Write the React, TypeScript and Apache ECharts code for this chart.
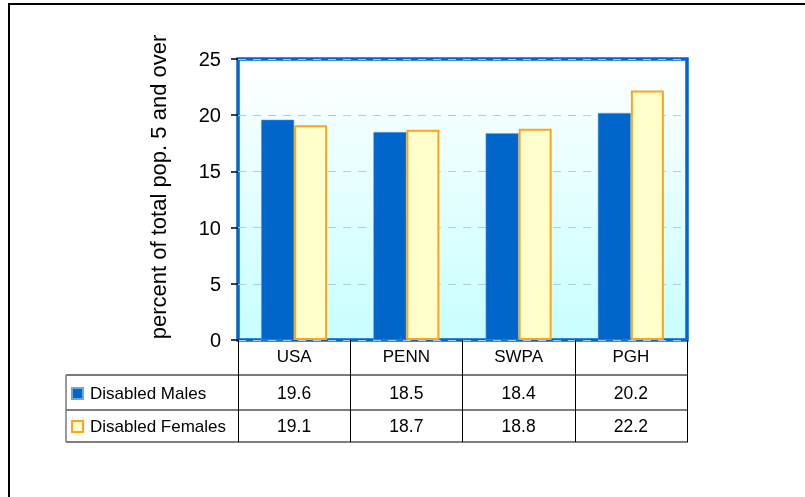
import React, { useEffect, useRef } from "react";
import * as echarts from "echarts";

const categories = ["USA", "PENN", "SWPA", "PGH"];
const males = [19.6, 18.5, 18.4, 20.2];
const females = [19.1, 18.7, 18.8, 22.2];
const seriesNames = ["Disabled Males", "Disabled Females"];
const yTitle = "percent of total pop. 5 and over";
const yMin = 0;
const yMax = 25;
const yInterval = 5;

const FONT = "'Liberation Sans', Arial, sans-serif";
const MALE = "#0066cc";
const FEMALE_FILL = "#ffffcc";
const FEMALE_BORDER = "#ffa31a";

export default function App() {
  const ref = useRef<HTMLDivElement>(null);
  useEffect(() => {
    document.body.style.margin = "0";
    const chart = echarts.init(ref.current!, null, { renderer: "svg" });
    const gridLeft = 238;
    const gridTop = 59;
    const gridW = 449;
    const gridH = 281;
    chart.setOption({
      animation: false,
      textStyle: { fontFamily: FONT },
      grid: {
        left: gridLeft,
        top: gridTop,
        width: gridW,
        height: gridH,
        show: true,
        borderColor: MALE,
        borderWidth: 3.5,
        backgroundColor: new echarts.graphic.LinearGradient(0, 0, 0, 1, [
          { offset: 0, color: "#ffffff" },
          { offset: 1, color: "#c8ffff" },
        ]),
      },
      legend: {
        orient: "vertical",
        left: 71,
        top: 385,
        padding: 0,
        itemWidth: 11,
        itemHeight: 11,
        itemGap: 16,
        icon: "rect",
        textStyle: { fontSize: 17, color: "#000", fontFamily: FONT, padding: [0, 0, 0, 2] },
        data: [
          { name: seriesNames[0], itemStyle: { color: MALE } },
          {
            name: seriesNames[1],
            itemStyle: { color: FEMALE_FILL, borderColor: FEMALE_BORDER, borderWidth: 2 },
          },
        ],
      },
      xAxis: {
        type: "category",
        data: categories,
        axisLine: { show: false },
        axisTick: {
          show: true,
          alignWithLabel: false,
          inside: false,
          length: 102,
          lineStyle: { color: "#000", width: 1 },
        },
        axisLabel: { fontSize: 17, color: "#000", margin: 8, fontFamily: FONT },
        splitLine: { show: false },
      },
      yAxis: {
        type: "value",
        min: yMin,
        max: yMax,
        interval: yInterval,
        axisLine: { show: false },
        axisTick: { show: true, length: 7, lineStyle: { color: "#000", width: 1.5 } },
        axisLabel: { fontSize: 20, color: "#000", margin: 17, fontFamily: FONT },
        splitLine: {
          show: true,
          lineStyle: { color: "#a9ccf2", type: [8, 7], width: 1 },
        },
      },
      series: [
        {
          name: seriesNames[0],
          type: "bar",
          data: males,
          barWidth: 33,
          barGap: "0%",
          itemStyle: { color: MALE, borderColor: "#6aa6e0", borderWidth: 0.5 },
        },
        {
          name: seriesNames[1],
          type: "bar",
          data: females,
          barWidth: 33,
          barGap: "0%",
          itemStyle: { color: FEMALE_FILL, borderColor: FEMALE_BORDER, borderWidth: 2 },
        },
      ],
    });

    const xs = categories.map((c) => chart.convertToPixel({ xAxisIndex: 0 }, c) as number);
    const tableLeft = 66;
    const tableRight = gridLeft + gridW + 1;
    const row1 = 375;
    const row2 = 410;
    const row3 = 442;
    const graphics: any[] = [
      {
        type: "rect",
        shape: { x: 9, y: 4, width: 900, height: 600 },
        style: { fill: "none", stroke: "#000", lineWidth: 2 },
        silent: true,
      },
      {
        type: "text",
        x: 158,
        y: 187,
        rotation: Math.PI / 2,
        style: {
          text: yTitle,
          fontSize: 22,
          fontFamily: FONT,
          fill: "#000",
          align: "center",
          verticalAlign: "middle",
        },
      },
      {
        type: "line",
        shape: { x1: tableLeft, y1: row1, x2: tableRight, y2: row1 },
        style: { stroke: "#7a7a7a", lineWidth: 2 },
      },
      {
        type: "line",
        shape: { x1: tableLeft, y1: row2, x2: tableRight, y2: row2 },
        style: { stroke: "#000", lineWidth: 1 },
      },
      {
        type: "line",
        shape: { x1: tableLeft, y1: row3, x2: tableRight, y2: row3 },
        style: { stroke: "#000", lineWidth: 1 },
      },
      {
        type: "line",
        shape: { x1: tableLeft, y1: row1, x2: tableLeft, y2: row3 },
        style: { stroke: "#7a7a7a", lineWidth: 1.5 },
      },
    ];
    const rows = [males, females];
    rows.forEach((vals, ri) => {
      const yc = ri === 0 ? (row1 + row2) / 2 : (row2 + row3) / 2;
      vals.forEach((v, i) => {
        graphics.push({
          type: "text",
          x: xs[i],
          y: yc,
          style: {
            text: v.toFixed(1),
            fontSize: 17.5,
            fontFamily: FONT,
            fill: "#000",
            align: "center",
            verticalAlign: "middle",
          },
        });
      });
    });
    chart.setOption({ graphic: graphics });
    return () => chart.dispose();
  }, []);
  return (
    <div
      ref={ref}
      style={{ position: "fixed", left: 0, top: 0, width: 805, height: 497 }}
    />
  );
}
